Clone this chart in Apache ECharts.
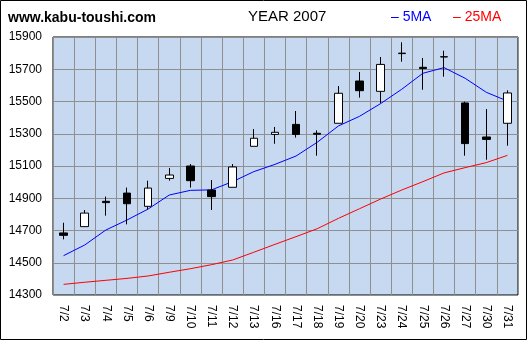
<!DOCTYPE html>
<html>
<head>
<meta charset="utf-8">
<script src="https://cdn.jsdelivr.net/npm/echarts@6/dist/echarts.min.js"></script>
<style>
  html, body { margin: 0; padding: 0; background: #fff; }
  #chart { width: 530px; height: 341px; }
</style>
</head>
<body>
<div id="chart"></div>
<script>
// Daily candles for July 2007
const categories = ['7/2','7/3','7/4','7/5','7/6','7/9','7/10','7/11','7/12','7/13','7/16',
                    '7/17','7/18','7/19','7/20','7/23','7/24','7/25','7/26','7/27','7/30','7/31'];
const opens  = [14685,14724,14881,14932,14850,15023,15100,14951,14968,15222,15296,
                15358,15303,15365,15627,15563,15800,15712,15776,15491,15280,15365];
const closes = [14670,14808,14873,14866,14963,15044,15009,14910,15094,15272,15309,
                15296,15297,15551,15567,15730,15797,15704,15778,15239,15265,15553];
const lows   = [14645,14724,14792,14738,14831,15009,14966,14827,14968,15222,15238,
                15276,15164,15365,15524,15489,15747,15573,15654,15164,15139,15226];
const highs  = [14748,14827,14910,14966,15009,15088,15112,15013,15112,15329,15342,
                15441,15321,15596,15683,15776,15867,15770,15815,15499,15453,15569];
// Moving averages
const ma5  = [14544,14610,14703,14765,14833,14920,14949,14952,15003,15065,15110,
              15162,15247,15348,15408,15487,15576,15675,15710,15644,15557,15503];
const ma25 = [14366,14379,14391,14403,14418,14441,14463,14488,14517,14565,14614,
              14662,14711,14775,14835,14895,14951,15003,15057,15090,15121,15166];
const yTicks = { min: 14300, max: 15900, step: 200 };

const candleData = categories.map((_, i) => [opens[i], closes[i], lows[i], highs[i]]);

const chart = echarts.init(document.getElementById('chart'), null, { renderer: 'canvas' });
chart.setOption({
  animation: false,
  backgroundColor: '#ffffff',
  textStyle: { fontFamily: 'Arial, "Liberation Sans", sans-serif' },
  graphic: [
    { type: 'rect', shape: { x: 0.5, y: 0.5, width: 526, height: 339 },
      style: { fill: 'none', stroke: '#000', lineWidth: 1 }, silent: true, z: 100 },
    { type: 'text', left: 8, top: 11,
      style: { text: 'www.kabu-toushi.com', font: 'bold 14px Arial, "Liberation Sans", sans-serif', fill: '#000' } },
    { type: 'text', left: 248, top: 9,
      style: { text: 'YEAR 2007', font: '15px Arial, "Liberation Sans", sans-serif', fill: '#000' } },
    { type: 'text', left: 391, top: 10,
      style: { text: '– 5MA', font: '14px Arial, "Liberation Sans", sans-serif', fill: '#0000ff' } },
    { type: 'text', left: 453, top: 10,
      style: { text: '– 25MA', font: '14px Arial, "Liberation Sans", sans-serif', fill: '#ff0000' } }
  ],
  grid: {
    left: 53, top: 37, right: 12, bottom: 46,
    show: true, backgroundColor: '#c6d9f0', borderColor: '#000', borderWidth: 1
  },
  xAxis: {
    type: 'category',
    data: categories,
    boundaryGap: true,
    axisLine: { show: false },
    axisTick: { show: false },
    splitLine: { show: true, interval: 0, lineStyle: { color: '#8f8f8f', width: 1 } },
    axisLabel: { interval: 0, rotate: -90, margin: 10, fontSize: 12, color: '#000',
                 fontFamily: 'Arial, "Liberation Sans", sans-serif' }
  },
  yAxis: {
    type: 'value',
    min: yTicks.min, max: yTicks.max, interval: yTicks.step,
    axisLine: { show: false },
    axisTick: { show: false },
    splitLine: { show: true, lineStyle: { color: '#8f8f8f', width: 1 } },
    axisLabel: { fontSize: 12, color: '#000', margin: 11,
                 formatter: v => String(v),
                 fontFamily: 'Arial, "Liberation Sans", sans-serif' }
  },
  series: [
    {
      name: '25MA', type: 'line', data: ma25, symbol: 'none', smooth: false,
      lineStyle: { color: '#ff0000', width: 1 }, z: 2
    },
    {
      name: '5MA', type: 'line', data: ma5, symbol: 'none', smooth: false,
      lineStyle: { color: '#0000ff', width: 1 }, z: 2
    },
    {
      name: 'price', type: 'candlestick', data: candleData, barWidth: 8, z: 3,
      itemStyle: { color: '#ffffff', color0: '#000000', borderColor: '#000000',
                   borderColor0: '#000000', borderWidth: 1 }
    }
  ]
});
</script>
</body>
</html>
